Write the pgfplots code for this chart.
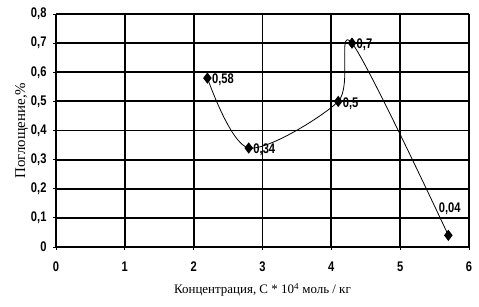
\documentclass[border=0pt]{standalone}
\usepackage{fontspec}
\setmainfont{Liberation Serif}
\newfontfamily\tickfont[FakeStretch=0.8]{Liberation Sans}
\usepackage{pgfplots}
\pgfplotsset{compat=1.18}
\begin{document}
\begin{tikzpicture}
\begin{axis}[
  scale only axis,
  width=413bp, height=233bp,
  xmin=0, xmax=6, ymin=0, ymax=0.8,
  xtick={0,1,...,6}, ytick={0,0.1,...,0.8},
  grid=major,
  grid style={black, line width=1.8bp},
  axis line style={black, line width=1.8bp},
  axis x line*=bottom, axis y line*=left,
  tick align=outside, tick style={black, line width=0.8bp},
  major tick length=3bp,
  /pgf/number format/assume math mode=true,
  /pgf/number format/use comma,
  /pgf/number format/fixed,
  /pgf/number format/precision=1,
  yticklabel style={font=\tickfont\bfseries\fontsize{14}{15}\selectfont, xshift=-3bp},
  xticklabel style={font=\tickfont\bfseries\fontsize{14}{15}\selectfont, yshift=-8bp},
  xlabel={Концентрация, С * 10\textsuperscript{4} моль / кг},
  ylabel={Поглощение,\%},
  xlabel style={font=\fontsize{13}{14}\selectfont, yshift=-5bp},
  ylabel style={font=\fontsize{15}{16}\selectfont, yshift=-4bp},
  clip=false,
]
\addplot[black, line width=0.8bp, smooth, tension=0.5, mark=diamond*, mark size=5bp,
  mark options={fill=black, solid},
  nodes near coords, point meta=explicit symbolic,
  every node near coord/.style={font=\tickfont\bfseries\fontsize{14}{15}\selectfont, anchor=west, xshift=1bp, yshift=-2bp}]
  coordinates {(2.2,0.58)[0,58] (2.8,0.34)[0,34] (4.1,0.5)[0,5] (4.3,0.7)[0,7] (5.7,0.04)};
\node[font=\tickfont\bfseries\fontsize{14}{15}\selectfont] at (axis cs:5.72,0.13) {0,04};
\end{axis}
\pgfresetboundingbox
\path (-56bp,-60bp) rectangle (423bp,247bp);
\end{tikzpicture}
\end{document}
